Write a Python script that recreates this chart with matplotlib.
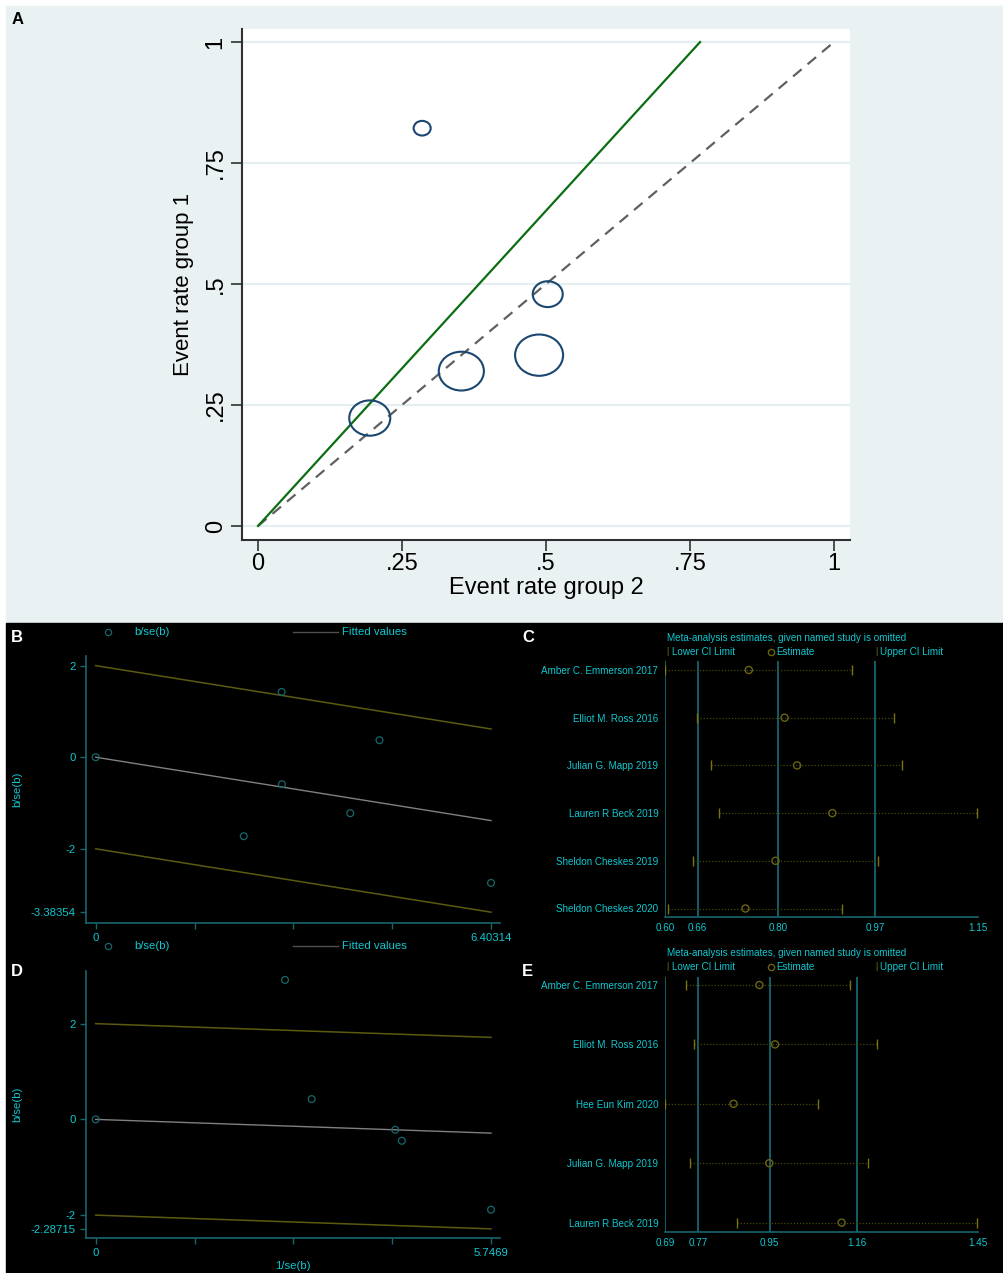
import numpy as np
import matplotlib
matplotlib.use('Agg')
import matplotlib.pyplot as plt
from matplotlib.path import Path
from matplotlib.patches import Rectangle
from matplotlib.transforms import Affine2D

plt.rcParams['font.family'] = ['Liberation Sans', 'DejaVu Sans']

# ---------------- data ----------------
# Panel A: L'Abbe plot
rate_group2 = [0.285, 0.503, 0.488, 0.353, 0.194]
rate_group1 = [0.822, 0.479, 0.353, 0.320, 0.223]
study_weight = [29, 90, 230, 203, 168]
labbe_slope = 1.303

# Panel B: Galbraith plot (first outcome)
b_prec = [0.0, 3.012, 3.017, 2.398, 4.123, 4.597, 6.40314]
b_z = [0.0, 1.426, -0.590, -1.725, -1.223, 0.371, -2.745]
b_slope = -0.21607
b_xmax = 6.40314
b_ymin = -3.38354

# Panel D: Galbraith plot (second outcome)
d_prec = [0.0, 2.752, 3.139, 4.354, 4.450, 5.7469]
d_z = [0.0, 2.914, 0.424, -0.217, -0.447, -1.887]
d_slope = -0.04997
d_xmax = 5.7469
d_ymin = -2.28715

# Panel C: leave-one-out sensitivity (first outcome)
c_studies = ['Amber C. Emmerson 2017', 'Elliot M. Ross 2016', 'Julian G. Mapp 2019',
             'Lauren R Beck 2019', 'Sheldon Cheskes 2019', 'Sheldon Cheskes 2020']
c_lower = [0.600, 0.655, 0.681, 0.695, 0.648, 0.604]
c_est = [0.747, 0.810, 0.832, 0.894, 0.794, 0.741]
c_upper = [0.929, 1.003, 1.017, 1.149, 0.975, 0.911]
c_ticks = [0.600, 0.657, 0.798, 0.970, 1.150]
c_ticklabels = ['0.60', '0.66', '0.80', '0.97', '1.15']
c_ref = [0.657, 0.798, 0.970]

# Panel E: leave-one-out sensitivity (second outcome)
e_studies = ['Amber C. Emmerson 2017', 'Elliot M. Ross 2016', 'Hee Eun Kim 2020',
             'Julian G. Mapp 2019', 'Lauren R Beck 2019']
e_lower = [0.741, 0.761, 0.690, 0.751, 0.865]
e_est = [0.919, 0.957, 0.856, 0.943, 1.119]
e_upper = [1.140, 1.204, 1.062, 1.184, 1.449]
e_ticks = [0.690, 0.770, 0.944, 1.157, 1.450]
e_ticklabels = ['0.69', '0.77', '0.95', '1.16', '1.45']
e_ref = [0.770, 0.944, 1.157]

# ---------------- styling ----------------
W, H = 1004, 1273
fig = plt.figure(figsize=(W / 100, H / 100), dpi=100)
fig.patch.set_facecolor('white')

CYAN = '#10c8d0'
TEAL = '#16666c'
OLIVE = '#5c5a10'
GREY = '#808080'
VLINE = '#1a7880'


def px_axes(left, top, right, bottom, **kw):
    return fig.add_axes([left / W, 1 - bottom / H, (right - left) / W, (bottom - top) / H], **kw)


# backgrounds
fig.patches.append(Rectangle((6 / W, 1 - 622 / H), 1 - 6 / W, 616 / H,
                             transform=fig.transFigure, color='#eaf1f3', zorder=-10))
fig.patches.append(Rectangle((6 / W, 0), 1 - 6 / W, 1 - 623 / H,
                             transform=fig.transFigure, color='black', zorder=-10))

# ---------------- Panel A ----------------
axA = px_axes(242, 29, 850, 540)
axA.set_facecolor('white')
axA.set_xlim(-0.0278, 1.0278)
axA.set_ylim(-0.029, 1.027)
for s in ['top', 'right']:
    axA.spines[s].set_visible(False)
for s in ['left', 'bottom']:
    axA.spines[s].set_color('#303030')
    axA.spines[s].set_linewidth(1.5)
ticksA = [0, 0.25, 0.5, 0.75, 1]
ticklabA = ['0', '.25', '.5', '.75', '1']
axA.set_xticks(ticksA, ticklabA)
axA.set_yticks(ticksA, ticklabA)
axA.tick_params(axis='both', labelsize=17, length=8, width=1.2, color='#303030', pad=3)
axA.tick_params(axis='x', pad=1)
for lab in axA.get_yticklabels():
    lab.set_rotation(90)
    lab.set_va('center')
for y in ticksA:
    axA.axhline(y, color='#e4eef1', lw=1.5, zorder=0)
xx = np.array([0, 1.0])
axA.plot(xx, xx, color='#606060', lw=1.6, ls=(0, (5, 3.5)), zorder=2)
xg = np.array([0, 1 / labbe_slope])
axA.plot(xg, labbe_slope * xg, color='#0b6e12', lw=1.6, zorder=2)
ell = Path.unit_circle().transformed(Affine2D().scale(1.0, 0.86))
sizes = np.sqrt(study_weight) * 2.28
axA.scatter(rate_group2, rate_group1, s=sizes ** 2, marker=ell,
            facecolors='none', edgecolors='#1a476f', linewidths=1.5, zorder=3)
axA.set_xlabel('Event rate group 2', fontsize=17)
axA.xaxis.set_label_coords(0.5, -0.073)
axA.set_ylabel('Event rate group 1', fontsize=16)
axA.yaxis.set_label_coords(-0.079, 0.5)
fig.text(12 / W, 1 - 19 / H, 'A', fontsize=12, fontweight='bold', va='center')


# ---------------- Galbraith panels ----------------
def galbraith(top, bottom, prec, z, slope, xmax, ymin, ylims, xlabel, legend_y):
    ax = px_axes(86, top, 500, bottom)
    ax.patch.set_alpha(0)
    xr = 396 / xmax
    ax.set_xlim(-9.7 / xr, xmax + 9.0 / xr)
    ax.set_ylim(*ylims)
    for s in ['top', 'right']:
        ax.spines[s].set_visible(False)
    for s in ['left', 'bottom']:
        ax.spines[s].set_color(TEAL)
        ax.spines[s].set_linewidth(1.2)
    xt = [0, xmax / 4, xmax / 2, 3 * xmax / 4, xmax]
    ax.set_xticks(xt, ['0', '', '', '', f'{xmax:g}'])
    ax.set_yticks([2, 0, -2, ymin], ['2', '0', '-2', f'{ymin:g}'])
    ax.tick_params(axis='both', colors=TEAL, labelcolor=CYAN, labelsize=8.2, length=4, width=1)
    xl = np.array([0, xmax])
    ax.plot(xl, slope * xl + 2, color=OLIVE, lw=1.1)
    ax.plot(xl, slope * xl, color=GREY, lw=1.0)
    ax.plot(xl, slope * xl - 2, color=OLIVE, lw=1.1)
    ax.scatter(prec, z, s=24, facecolors='none', edgecolors=TEAL, linewidths=0.9, zorder=3)
    ax.set_ylabel('b/se(b)', color=CYAN, fontsize=8.2)
    ax.yaxis.set_label_coords(-0.155, 0.5)
    if xlabel:
        ax.set_xlabel(xlabel, color=CYAN, fontsize=8.2, labelpad=2)
    # legend row
    ly = 1 - legend_y / H
    fig.lines.append(plt.Line2D([108 / W], [ly], transform=fig.transFigure, marker='o',
                                ms=4.5, mfc='none', mec=TEAL, mew=0.9, ls='none'))
    fig.text(134 / W, ly, 'b/se(b)', color=CYAN, fontsize=8.2, va='center')
    fig.lines.append(plt.Line2D([293 / W, 338 / W], [ly, ly], transform=fig.transFigure,
                                color='#505050', lw=1.0))
    fig.text(342 / W, ly, 'Fitted values', color=CYAN, fontsize=8.2, va='center')
    return ax


galbraith(656, 923, b_prec, b_z, b_slope, b_xmax, b_ymin, (-3.62, 2.21), None, 632)
fig.text(11 / W, 1 - 638 / H, 'B', fontsize=12, fontweight='bold', color='white', va='center')

galbraith(971, 1238, d_prec, d_z, d_slope, d_xmax, d_ymin, (-2.478, 3.10), '1/se(b)', 946)
fig.text(11 / W, 1 - 972 / H, 'D', fontsize=12, fontweight='bold', color='white', va='center')


# ---------------- Sensitivity panels ----------------
def influence(top, bottom, first_row, step, studies, lo, est, hi, ticks, ticklabels, ref, title_y):
    n = len(studies)
    ax = px_axes(665.3, top, 977.7, bottom)
    ax.patch.set_alpha(0)
    ax.set_xlim(ticks[0], ticks[-1])
    # rows: pixel row centres converted into data units (row index 0 at top)
    ax.set_ylim(n - 1 + (bottom - (first_row + (n - 1) * step)) / step,
                -(first_row - top) / step)
    for s in ['top', 'right', 'left']:
        ax.spines[s].set_visible(False)
    ax.spines['bottom'].set_color(TEAL)
    ax.spines['bottom'].set_linewidth(1.2)
    ax.axvline(ticks[0], color=VLINE, lw=1.1)
    for r in ref:
        ax.axvline(r, color=VLINE, lw=1.1)
    rows = np.arange(n)
    ax.hlines(rows, lo, hi, color='#4a4808', lw=0.9, linestyles=(0, (1, 1.5)))
    ax.scatter(lo, rows, marker='|', s=60, color='#7a7410', linewidths=1.0, zorder=3)
    ax.scatter(hi, rows, marker='|', s=60, color='#7a7410', linewidths=1.0, zorder=3)
    ax.scatter(est, rows, s=26, facecolors='none', edgecolors='#6a6410', linewidths=1.0, zorder=4)
    ax.set_xticks(ticks, ticklabels)
    ax.set_yticks(rows, studies)
    ax.tick_params(axis='x', colors=TEAL, labelcolor=CYAN, labelsize=7.1, length=0, pad=4)
    ax.tick_params(axis='y', length=0, labelcolor=CYAN, labelsize=7.1, pad=5)
    # title and legend
    fig.text(787 / W, 1 - title_y / H, 'Meta-analysis estimates, given named study is omitted',
             color=CYAN, fontsize=7.1, ha='center', va='center')
    ly = 1 - (title_y + 13.5) / H
    fig.text(667 / W, ly, '|', color='#7a7410', fontsize=6.5, va='center', ha='center')
    fig.text(672 / W, ly, 'Lower CI Limit', color=CYAN, fontsize=7.1, va='center')
    fig.lines.append(plt.Line2D([771 / W], [ly], transform=fig.transFigure, marker='o',
                                ms=4.5, mfc='none', mec='#6a6410', mew=1.0, ls='none'))
    fig.text(776 / W, ly, 'Estimate', color=CYAN, fontsize=7.1, va='center')
    fig.text(876 / W, ly, '|', color='#7a7410', fontsize=6.5, va='center', ha='center')
    fig.text(880 / W, ly, 'Upper CI Limit', color=CYAN, fontsize=7.1, va='center')
    return ax


influence(661, 917.3, 670, 47.7, c_studies, c_lower, c_est, c_upper,
          c_ticks, c_ticklabels, c_ref, 638)
fig.text(522 / W, 1 - 638 / H, 'C', fontsize=12, fontweight='bold', color='white', va='center')

influence(976.5, 1232.3, 985, 59.4, e_studies, e_lower, e_est, e_upper,
          e_ticks, e_ticklabels, e_ref, 953)
fig.text(522 / W, 1 - 972 / H, 'E', fontsize=12, fontweight='bold', color='white', va='center')

fig.savefig('out.png', dpi=100, facecolor=fig.get_facecolor())
